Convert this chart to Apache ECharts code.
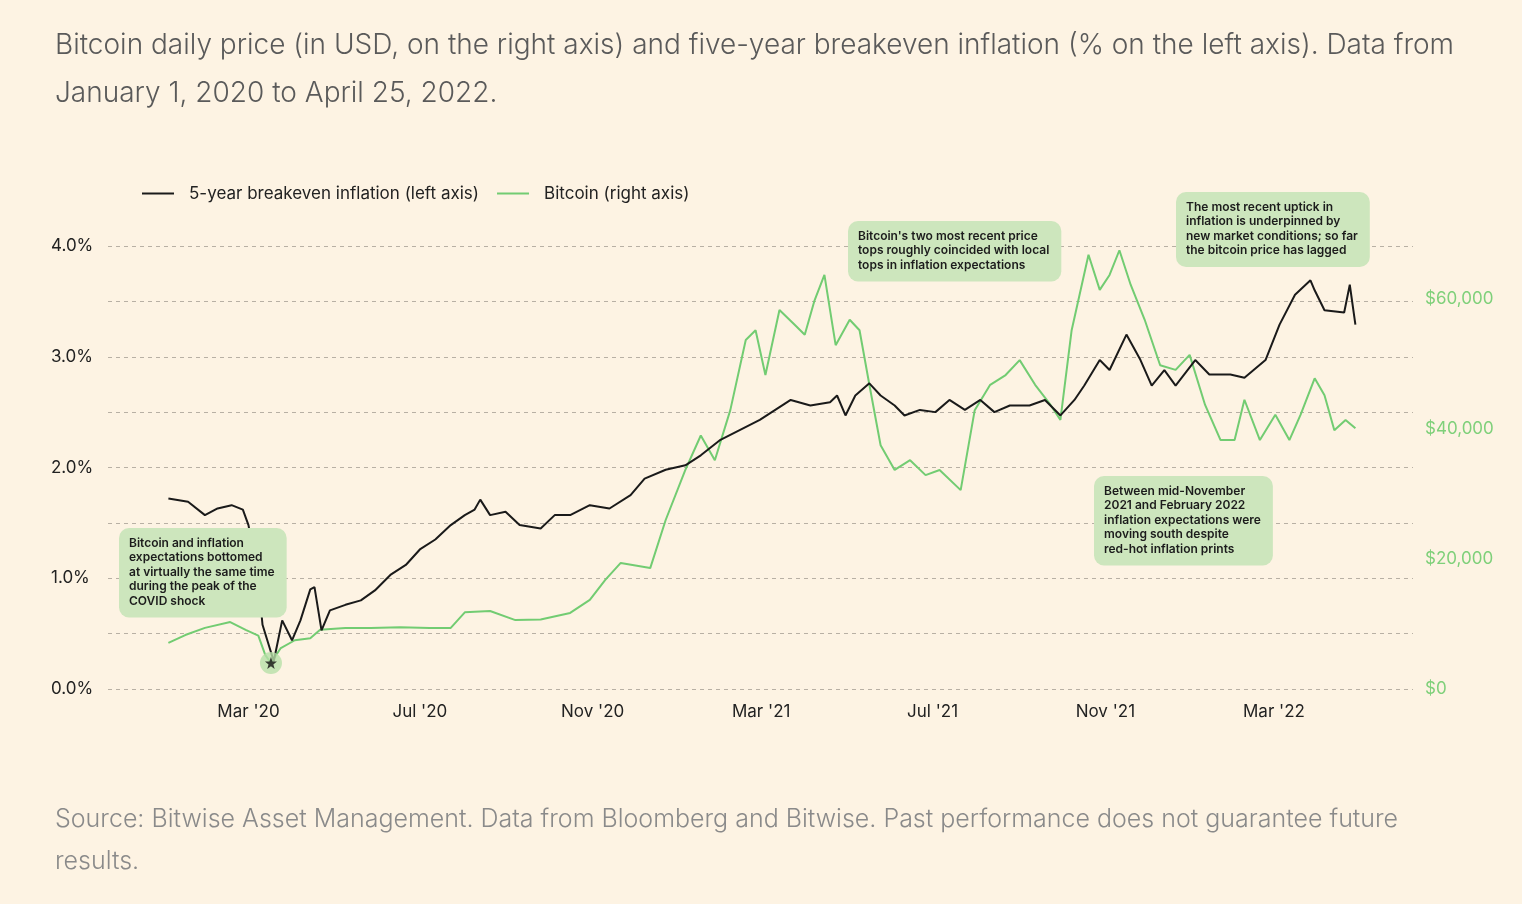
<!DOCTYPE html>
<html>
<head>
<meta charset="utf-8">
<script src="https://cdn.jsdelivr.net/npm/echarts@6/dist/echarts.min.js"></script>
<style>
  html, body { margin: 0; padding: 0; background: #fdf3e3; }
  #chart { width: 1522px; height: 904px; }
</style>
</head>
<body>
<div id="chart"></div>
<script>
// days since 2020-01-01
const inflDays = [3,17,29,38,48,56,60,67,70,78,84,91,97,104,107,112,118,129,140,150,161,172,182,193,204,214,221,225,232,243,253,268,278,289,303,317,332,342,357,371,382,396,410,424,435,446,460,474,479,485,492,502,510,520,527,538,549,559,570,581,591,602,616,627,638,648,655,666,673,685,695,703,712,720,734,744,759,769,784,794,805,816,819,826,840,844,848];
const inflValues = [1.72,1.69,1.57,1.63,1.66,1.62,1.48,0.98,0.58,0.25,0.62,0.44,0.62,0.9,0.92,0.53,0.71,0.76,0.8,0.89,1.03,1.12,1.26,1.35,1.48,1.57,1.62,1.71,1.57,1.6,1.48,1.45,1.57,1.57,1.66,1.63,1.75,1.9,1.98,2.02,2.11,2.25,2.34,2.43,2.52,2.61,2.56,2.59,2.65,2.47,2.65,2.76,2.65,2.56,2.47,2.52,2.5,2.61,2.52,2.61,2.5,2.56,2.56,2.61,2.47,2.61,2.74,2.97,2.88,3.2,2.97,2.74,2.88,2.74,2.97,2.84,2.84,2.81,2.97,3.29,3.56,3.69,3.6,3.42,3.4,3.65,3.29];

const btcDays = [3,15,29,47,58,67,72,76,83,93,104,111,129,147,168,189,204,214,232,250,268,289,303,314,325,346,357,371,382,392,403,414,421,428,438,449,456,463,470,478,488,495,502,510,520,531,542,552,567,577,588,599,609,620,631,638,646,658,666,673,680,688,698,709,720,730,741,752,762,769,780,791,801,809,819,826,833,841,848];
const btcValues = [7100,8300,9400,10300,9100,8200,5200,4000,6300,7500,7800,9100,9400,9400,9500,9400,9400,11800,12000,10600,10700,11700,13700,16800,19400,18600,26000,33700,39000,35200,42900,53700,55200,48300,58300,56000,54500,59800,63700,52900,56800,55200,46800,37500,33700,35200,32900,33700,30600,42900,46800,48300,50600,46800,43700,41400,55200,66800,61400,63700,67500,62200,56800,49800,49100,51400,43700,38300,38300,44500,38300,42200,38300,42200,47800,45200,39800,41400,40100];

const tickDays = [60,182,305,425,547,670,790];
const tickLabels = ["Mar '20","Jul '20","Nov '20","Mar '21","Jul '21","Nov '21","Mar '22"];

const chart = echarts.init(document.getElementById('chart'));
const font = 'Inter, "Noto Sans", sans-serif';
const boxStyle = (text, x, y) => ({
  type: 'text', left: x, top: y, z: 100,
  style: {
    text: text, font: '600 12px ' + font, fill: '#1c1c1c', lineHeight: 14.5,
    backgroundColor: '#cde6bd', padding: [8, 12, 9, 10], borderRadius: 10
  }
});
const star = 'path://M0,-10L2.4,-3.2L9.5,-3.1L3.8,1.2L5.9,8.1L0,4L-5.9,8.1L-3.8,1.2L-9.5,-3.1L-2.4,-3.2Z';

chart.setOption({
  backgroundColor: '#fdf3e3',
  animation: false,
  textStyle: { fontFamily: font },
  title: [
    { text: 'Bitcoin daily price (in USD, on the right axis) and five-year breakeven inflation (% on the left axis). Data from\nJanuary 1, 2020 to April 25, 2022.',
      left: 50, top: 17, textStyle: { fontSize: 28, fontWeight: 300, color: '#5a5a5a', lineHeight: 48, fontFamily: font } },
    { text: 'Source: Bitwise Asset Management. Data from Bloomberg and Bitwise. Past performance does not guarantee future\nresults.',
      left: 50, top: 793, textStyle: { fontSize: 25, fontWeight: 300, color: '#8a8a8a', lineHeight: 42, fontFamily: font } }
  ],
  legend: {
    left: 137, top: 180, itemWidth: 32, itemHeight: 2, itemGap: 18,
    icon: 'rect',
    textStyle: { fontSize: 17, color: '#222', padding: [0, 0, 0, 10] },
    data: ['5-year breakeven inflation (left axis)', 'Bitcoin (right axis)']
  },
  grid: { left: 108, right: 109, top: 246, bottom: 215 },
  xAxis: {
    type: 'value', min: -40, max: 889,
    axisLine: { show: false }, axisTick: { show: false }, splitLine: { show: false },
    axisLabel: {
      customValues: tickDays, fontSize: 17, color: '#222', margin: 14,
      formatter: v => tickLabels[tickDays.indexOf(v)] || ''
    }
  },
  yAxis: [
    { type: 'value', min: 0, max: 4, interval: 0.5, position: 'left',
      axisLine: { show: false }, axisTick: { show: false },
      axisLabel: { fontSize: 17, color: '#222', align: 'left', margin: 57,
        formatter: v => Number.isInteger(v) ? v.toFixed(1) + '%' : '' },
      splitLine: { lineStyle: { type: [4, 4], color: '#b8b0a4' } } },
    { type: 'value', min: 0, max: 68154, interval: 20000, position: 'right',
      axisLine: { show: false }, axisTick: { show: false }, splitLine: { show: false },
      axisLabel: { fontSize: 17, color: '#7fd07a', align: 'left', margin: 12, showMaxLabel: false,
        formatter: v => v % 20000 === 0 ? '$' + v.toLocaleString('en-US') : '' } }
  ],
  series: [
    { name: 'Bitcoin (right axis)', type: 'line', yAxisIndex: 1, showSymbol: false,
      color: '#72cc72', lineStyle: { width: 2, color: '#72cc72' },
      data: btcDays.map((d, i) => [d, btcValues[i]]) },
    { name: '5-year breakeven inflation (left axis)', type: 'line', yAxisIndex: 0, showSymbol: false,
      color: '#1a1a1a', lineStyle: { width: 2, color: '#1a1a1a' },
      data: inflDays.map((d, i) => [d, inflValues[i]]) },
    { type: 'scatter', yAxisIndex: 1, z: 10, silent: true,
      data: [[btcDays[7], btcValues[7]]],
      symbol: 'circle', symbolSize: 22, itemStyle: { color: '#b7e0a8' } },
    { type: 'scatter', yAxisIndex: 1, z: 11, silent: true,
      data: [[btcDays[7], btcValues[7]]],
      symbol: star, symbolSize: 12, itemStyle: { color: '#111' } }
  ],
  graphic: [
    boxStyle('Bitcoin and inflation\nexpectations bottomed\nat virtually the same time\nduring the peak of the\nCOVID shock', 119, 528),
    boxStyle("Bitcoin's two most recent price\ntops roughly coincided with local\ntops in inflation expectations", 848, 221),
    boxStyle('The most recent uptick in\ninflation is underpinned by\nnew market conditions; so far\nthe bitcoin price has lagged', 1176, 192),
    boxStyle('Between mid-November\n2021 and February 2022\ninflation expectations were\nmoving south despite\nred-hot inflation prints', 1094, 476)
  ]
});
</script>
</body>
</html>
